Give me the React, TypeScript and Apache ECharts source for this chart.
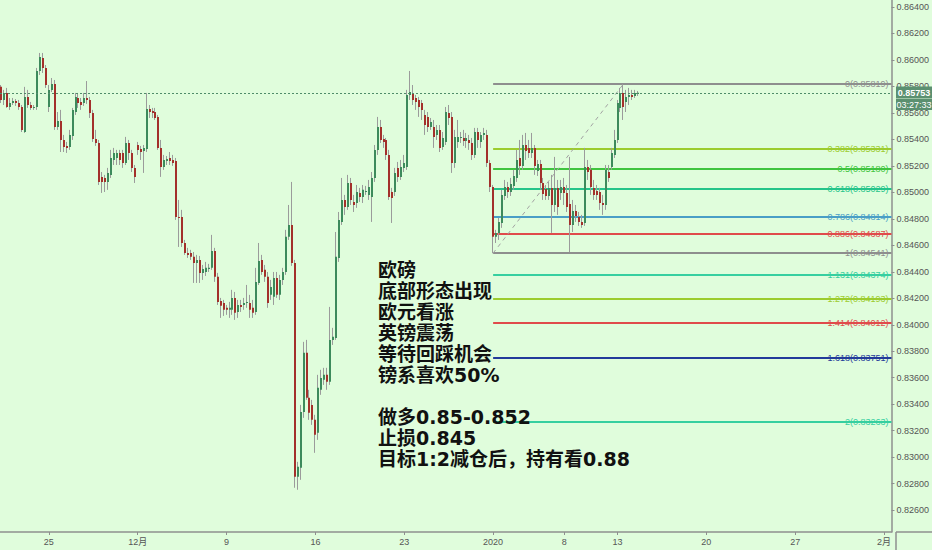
import React, { useEffect, useRef } from "react";
import * as echarts from "echarts";

// 4h EUR/GBP bars: [open, close, low, high]
const candles: number[][] = [
  [0.85797, 0.85698, 0.85675, 0.85811], [0.85698, 0.85751, 0.8566, 0.85774], [0.85751, 0.85645, 0.85638, 0.85789],
  [0.85645, 0.85675, 0.85623, 0.85713], [0.85675, 0.8569, 0.8566, 0.85713], [0.8569, 0.85675, 0.85653, 0.85705],
  [0.85675, 0.85645, 0.85623, 0.85698], [0.85645, 0.85472, 0.85456, 0.8566], [0.85456, 0.85721, 0.85449, 0.85797],
  [0.85721, 0.8566, 0.85638, 0.85774], [0.8566, 0.85638, 0.85623, 0.85683], [0.85638, 0.85645, 0.85623, 0.8566],
  [0.85645, 0.85917, 0.85623, 0.8594], [0.85917, 0.86023, 0.85887, 0.86053], [0.86015, 0.8594, 0.85902, 0.86053],
  [0.8594, 0.85811, 0.85789, 0.85962], [0.85645, 0.85774, 0.85607, 0.85811], [0.85774, 0.85819, 0.85758, 0.85864],
  [0.85819, 0.85494, 0.85472, 0.85849], [0.85494, 0.85539, 0.85472, 0.85607], [0.85539, 0.85396, 0.85305, 0.85623],
  [0.85396, 0.85343, 0.85305, 0.85434], [0.85351, 0.85336, 0.85298, 0.85381], [0.85343, 0.85434, 0.85321, 0.85472],
  [0.85426, 0.85623, 0.85396, 0.85638], [0.85607, 0.85721, 0.85585, 0.85751], [0.85713, 0.85675, 0.85638, 0.85751],
  [0.85683, 0.8566, 0.85623, 0.85713], [0.85675, 0.85713, 0.85653, 0.85751], [0.85713, 0.85698, 0.85668, 0.85841],
  [0.85698, 0.856, 0.85562, 0.85721], [0.856, 0.85404, 0.85381, 0.85623], [0.85404, 0.85373, 0.85351, 0.85472],
  [0.85373, 0.85079, 0.85056, 0.85396], [0.85117, 0.85079, 0.84996, 0.85154], [0.85109, 0.85079, 0.85003, 0.85132],
  [0.85079, 0.85147, 0.85019, 0.85185], [0.85132, 0.8526, 0.85109, 0.85321], [0.85245, 0.85298, 0.85207, 0.85336],
  [0.8526, 0.85298, 0.85207, 0.85321], [0.85298, 0.85245, 0.85207, 0.85321], [0.85298, 0.85222, 0.85185, 0.85321],
  [0.85222, 0.85373, 0.85207, 0.85419], [0.85373, 0.85298, 0.85245, 0.85396], [0.85298, 0.85185, 0.85154, 0.85321],
  [0.85185, 0.85117, 0.85071, 0.85207], [0.85358, 0.85321, 0.85283, 0.85381], [0.85328, 0.85305, 0.85245, 0.85351],
  [0.85313, 0.85336, 0.85147, 0.85358], [0.85328, 0.8563, 0.85305, 0.85751], [0.8563, 0.85607, 0.85562, 0.8566],
  [0.85615, 0.856, 0.85562, 0.85638], [0.85607, 0.85562, 0.85547, 0.85638], [0.8557, 0.85336, 0.85321, 0.85585],
  [0.85336, 0.85192, 0.85117, 0.85396], [0.85192, 0.85245, 0.8517, 0.85283], [0.85237, 0.85253, 0.85207, 0.85275],
  [0.8526, 0.85237, 0.85207, 0.85305], [0.85245, 0.85222, 0.852, 0.85283], [0.85237, 0.84815, 0.84792, 0.8526],
  [0.84815, 0.84807, 0.84588, 0.84943], [0.84815, 0.84618, 0.84588, 0.84868], [0.84618, 0.84543, 0.84528, 0.84641],
  [0.84543, 0.84528, 0.84505, 0.84581], [0.84543, 0.84513, 0.8449, 0.84566], [0.84513, 0.84467, 0.84316, 0.8455],
  [0.84467, 0.8449, 0.84316, 0.84528], [0.8449, 0.84392, 0.84316, 0.8452], [0.84392, 0.84422, 0.84339, 0.84452],
  [0.84399, 0.8443, 0.84369, 0.84475], [0.84422, 0.8443, 0.84399, 0.8446], [0.8443, 0.84558, 0.84415, 0.84679],
  [0.84558, 0.84362, 0.84324, 0.84581], [0.84362, 0.84173, 0.8415, 0.84392], [0.8418, 0.84143, 0.84052, 0.84203],
  [0.84165, 0.84113, 0.84067, 0.84188], [0.84128, 0.84113, 0.84075, 0.8415], [0.84113, 0.84128, 0.84052, 0.84173],
  [0.84113, 0.84203, 0.84075, 0.84264], [0.84203, 0.8409, 0.84037, 0.84248], [0.84097, 0.8415, 0.84052, 0.84188],
  [0.8415, 0.84135, 0.84097, 0.84188], [0.8415, 0.84165, 0.84113, 0.84203], [0.84165, 0.84173, 0.84128, 0.84301],
  [0.84165, 0.84113, 0.84052, 0.84226], [0.84128, 0.8409, 0.84052, 0.84188], [0.84097, 0.84324, 0.84075, 0.8443],
  [0.84316, 0.84482, 0.84301, 0.84618], [0.8449, 0.84399, 0.84377, 0.84528], [0.84415, 0.84362, 0.84324, 0.84452],
  [0.84362, 0.84165, 0.84128, 0.84399], [0.84226, 0.84286, 0.84188, 0.84339], [0.84211, 0.84354, 0.8415, 0.84399],
  [0.84354, 0.84226, 0.84203, 0.84399], [0.84226, 0.84339, 0.84188, 0.84377], [0.84339, 0.84399, 0.84301, 0.8443],
  [0.84399, 0.84664, 0.84377, 0.84717], [0.84664, 0.84754, 0.84641, 0.84905], [0.84754, 0.84467, 0.84445, 0.85079],
  [0.84467, 0.82852, 0.82769, 0.8449], [0.82852, 0.82927, 0.82754, 0.82965], [0.8292, 0.83342, 0.82829, 0.83395],
  [0.83342, 0.83788, 0.83297, 0.83871], [0.83788, 0.83448, 0.83433, 0.83886], [0.83448, 0.83335, 0.83282, 0.83509],
  [0.83395, 0.83282, 0.83244, 0.83433], [0.83282, 0.83169, 0.83033, 0.8332], [0.83184, 0.83524, 0.83131, 0.83622],
  [0.83509, 0.83599, 0.83471, 0.8366], [0.83584, 0.83622, 0.83546, 0.83675], [0.83622, 0.83569, 0.83509, 0.83675],
  [0.83569, 0.83886, 0.83546, 0.84135], [0.83886, 0.83909, 0.83848, 0.83977], [0.83901, 0.84513, 0.83886, 0.84701],
  [0.84505, 0.84792, 0.84475, 0.84852], [0.84777, 0.84943, 0.84754, 0.85109], [0.84943, 0.8489, 0.8483, 0.84981],
  [0.8489, 0.85071, 0.84868, 0.85132], [0.85071, 0.84943, 0.84905, 0.85109], [0.84928, 0.84905, 0.84852, 0.84981],
  [0.8492, 0.85003, 0.84883, 0.85056], [0.84996, 0.84966, 0.84928, 0.85034], [0.84966, 0.85019, 0.8492, 0.85056],
  [0.85003, 0.85011, 0.84981, 0.85049], [0.84981, 0.85041, 0.84943, 0.85094], [0.84966, 0.85109, 0.84777, 0.85154],
  [0.85109, 0.85321, 0.85079, 0.85358], [0.85321, 0.85494, 0.85283, 0.8557], [0.85494, 0.85396, 0.85373, 0.85547],
  [0.85404, 0.85381, 0.85336, 0.85434], [0.85396, 0.85283, 0.85245, 0.85411], [0.85283, 0.84966, 0.84943, 0.85321],
  [0.85003, 0.84958, 0.84769, 0.85034], [0.85003, 0.85147, 0.84973, 0.85185], [0.85185, 0.85117, 0.85079, 0.8523],
  [0.85117, 0.85192, 0.85094, 0.85245], [0.85185, 0.85222, 0.85154, 0.85283], [0.85192, 0.85736, 0.8517, 0.85774],
  [0.85736, 0.85758, 0.85698, 0.85917], [0.85751, 0.85698, 0.8566, 0.85811], [0.85713, 0.85683, 0.85623, 0.85736],
  [0.85698, 0.85645, 0.8557, 0.85721], [0.85675, 0.85623, 0.85547, 0.85698], [0.85585, 0.85509, 0.85434, 0.85623],
  [0.8557, 0.85494, 0.85456, 0.85607], [0.85494, 0.85532, 0.85472, 0.85562], [0.85494, 0.85419, 0.85336, 0.85547],
  [0.85434, 0.85472, 0.85396, 0.85509], [0.85472, 0.85336, 0.85305, 0.85509], [0.85343, 0.85411, 0.85321, 0.85456],
  [0.85381, 0.85607, 0.85358, 0.85645], [0.856, 0.85562, 0.85509, 0.8566], [0.8557, 0.85222, 0.85147, 0.85607],
  [0.85222, 0.85419, 0.85185, 0.85472], [0.85381, 0.85419, 0.85336, 0.85547], [0.85411, 0.85419, 0.85373, 0.85456],
  [0.85411, 0.85389, 0.85351, 0.85472], [0.85389, 0.85411, 0.85336, 0.85449], [0.85396, 0.85373, 0.85321, 0.85434],
  [0.85373, 0.85283, 0.85245, 0.85411], [0.85283, 0.85456, 0.8526, 0.85487], [0.85456, 0.85396, 0.85336, 0.85487],
  [0.85381, 0.85434, 0.85336, 0.85456], [0.85434, 0.85449, 0.85396, 0.85487], [0.85434, 0.85222, 0.85192, 0.85472],
  [0.85222, 0.85041, 0.85003, 0.85245], [0.85041, 0.84664, 0.84541, 0.85056], [0.84664, 0.84694, 0.84618, 0.84717],
  [0.84694, 0.84777, 0.84641, 0.84807], [0.84769, 0.84981, 0.84732, 0.85019], [0.84973, 0.85041, 0.84943, 0.85094],
  [0.85041, 0.85003, 0.84958, 0.85079], [0.85003, 0.85064, 0.84973, 0.85109], [0.85049, 0.85124, 0.85019, 0.8517],
  [0.85109, 0.85245, 0.85079, 0.85321], [0.8526, 0.852, 0.85132, 0.85396], [0.852, 0.85358, 0.8517, 0.85434],
  [0.85358, 0.85313, 0.85245, 0.85449], [0.85336, 0.85298, 0.8526, 0.85396], [0.85298, 0.85336, 0.8526, 0.85449],
  [0.85336, 0.852, 0.85132, 0.85358], [0.85162, 0.85215, 0.85124, 0.85245], [0.85215, 0.85071, 0.85019, 0.85245],
  [0.85071, 0.84988, 0.84943, 0.85109], [0.85026, 0.84973, 0.84943, 0.85056], [0.84973, 0.85034, 0.84943, 0.85079],
  [0.85034, 0.84905, 0.84694, 0.85132], [0.84905, 0.85034, 0.84852, 0.85268], [0.85034, 0.8489, 0.8483, 0.85094],
  [0.84996, 0.85041, 0.84943, 0.85094], [0.85041, 0.84996, 0.84905, 0.85109], [0.84996, 0.8489, 0.84852, 0.85056],
  [0.84913, 0.84754, 0.84548, 0.85268], [0.84754, 0.8486, 0.84701, 0.84943], [0.8486, 0.84822, 0.84777, 0.84905],
  [0.84815, 0.84777, 0.84747, 0.84852], [0.84777, 0.84754, 0.84732, 0.8483], [0.84769, 0.85192, 0.84747, 0.85336],
  [0.85192, 0.85154, 0.85094, 0.85245], [0.8517, 0.85041, 0.84981, 0.85207], [0.85034, 0.84981, 0.84943, 0.85094],
  [0.85011, 0.84981, 0.84943, 0.85056], [0.85003, 0.8492, 0.84868, 0.85034], [0.8492, 0.84905, 0.8483, 0.84981],
  [0.84905, 0.8517, 0.84868, 0.85207], [0.85154, 0.85109, 0.85079, 0.85207], [0.85192, 0.85298, 0.8517, 0.85336],
  [0.85283, 0.85396, 0.8526, 0.85472], [0.85396, 0.85675, 0.85373, 0.85698], [0.85638, 0.85751, 0.85607, 0.85789],
  [0.85751, 0.85645, 0.85547, 0.85819], [0.85683, 0.85721, 0.85607, 0.85774], [0.85721, 0.85736, 0.8566, 0.85789],
  [0.85736, 0.85721, 0.85698, 0.85774], [0.85728, 0.85751, 0.85713, 0.85774], [0.85743, 0.85753, 0.85728, 0.85766],
];

// Fibonacci retracement drawn from the Jan 2 low to the Jan 14 high
const fibRatios = ["0", "0.382", "0.5", "0.618", "0.786", "0.886", "1", "1.131", "1.272", "1.414", "1.618", "2"];
const fibPrices = [0.85819, 0.85331, 0.8518, 0.85029, 0.84814, 0.84687, 0.84541, 0.84374, 0.84193, 0.84012, 0.83751, 0.83263];
const fibColors = ["#8e8e8e", "#9ccc2e", "#3fc43f", "#25c48a", "#4a9ec6", "#e04b4b", "#8e8e8e", "#36cfa0", "#9ccc2e", "#e04b4b", "#233b9a", "#36cfa0"];
const fibStartBar = 166;
const trendStart = [166, 0.84541];
const trendEnd = [210, 0.85819];

const lastPrice = 0.85753;
const barCountdown = "03:27:33";

const priceTicks = [
  0.826, 0.828, 0.83, 0.832, 0.834, 0.836, 0.838, 0.84, 0.842, 0.844,
  0.846, 0.848, 0.85, 0.852, 0.854, 0.856, 0.858, 0.86, 0.862, 0.864,
];

const dateTicks: [string, string][] = [
  ["2019-11-25 00:00", "25"],
  ["2019-12-02 00:00", "12月"],
  ["2019-12-09 00:00", "9"],
  ["2019-12-16 00:00", "16"],
  ["2019-12-23 00:00", "23"],
  ["2020-01-02 00:00", "2020"],
  ["2020-01-08 00:00", "8"],
  ["2020-01-13 00:00", "13"],
  ["2020-01-20 00:00", "20"],
  ["2020-01-27 00:00", "27"],
  ["2020-02-03 00:00", "2月"],
];

const noteText = [
  "欧磅",
  "底部形态出现",
  "欧元看涨",
  "英镑震荡",
  "等待回踩机会",
  "镑系喜欢50%",
  "",
  "做多0.85-0.852",
  "止损0.845",
  "目标1:2减仓后，持有看0.88",
].join("\n");

// Trading calendar for the 4h bars (weekends skipped, holiday sessions shortened)
const firstBar = "2019-11-20 08:00";
const lastBar = "2020-02-03 08:00";
const closedDays = ["2019-12-25", "2020-01-01"];
const shortDays = ["2019-12-24", "2019-12-31"];

function buildBarTimes(): string[] {
  const out: string[] = [];
  const d = new Date(Date.UTC(2019, 10, 20));
  let started = false;
  while (true) {
    const dow = d.getUTCDay();
    const key = d.toISOString().slice(0, 10);
    if (dow !== 0 && dow !== 6 && !closedDays.includes(key)) {
      const hours = shortDays.includes(key) ? [0, 4, 8] : [0, 4, 8, 12, 16, 20];
      for (const h of hours) {
        const t = `${key} ${String(h).padStart(2, "0")}:00`;
        if (t === firstBar) started = true;
        if (started) out.push(t);
        if (t === lastBar) return out;
      }
    }
    d.setUTCDate(d.getUTCDate() + 1);
  }
}

const barTimes = buildBarTimes();
const tickLabelMap: Record<string, string> = Object.fromEntries(dateTicks);

const BG = "#e0fddc";
const UP = "#3d8a5c";
const DOWN = "#a3302b";
const WICK = "#9b9b9b";
const AXIS = "#8f8f8f";
const LABEL = "#555";
const PRICE_BOX = "#5b9070";
const NARROW = "'Liberation Sans Narrow', 'Liberation Sans', sans-serif";

export default function App() {
  const ref = useRef<HTMLDivElement>(null);

  useEffect(() => {
    if (!ref.current) return;
    const chart = echarts.init(ref.current, undefined, { renderer: "svg" });

    const option: any = {
      animation: false,
      backgroundColor: BG,
      grid: { left: 0, right: 36, top: 0, bottom: 18 },
      xAxis: {
        type: "category",
        data: barTimes,
        boundaryGap: true,
        axisLine: { show: true, lineStyle: { color: AXIS, width: 1.5 } },
        axisTick: {
          show: true,
          alignWithLabel: true,
          length: 3,
          interval: (i: number, v: string) => v in tickLabelMap,
          lineStyle: { color: AXIS },
        },
        axisLabel: {
          interval: (i: number, v: string) => v in tickLabelMap,
          formatter: (v: string) => tickLabelMap[v] ?? "",
          color: LABEL,
          fontSize: 9,
          margin: 5,
          fontFamily: "'Liberation Sans Narrow', 'Liberation Sans', 'Noto Sans CJK SC', sans-serif",
        },
        splitLine: { show: false },
      },
      yAxis: {
        type: "value",
        position: "right",
        min: 0.82435,
        max: 0.86453,
        scale: true,
        axisLine: { show: true, lineStyle: { color: AXIS, width: 1.5 } },
        axisTick: { show: true, length: 3, customValues: priceTicks, lineStyle: { color: AXIS } },
        axisLabel: {
          customValues: priceTicks,
          formatter: (v: number) => v.toFixed(5),
          color: LABEL,
          fontSize: 9,
          margin: 5,
          fontFamily: NARROW,
        },
        splitLine: { show: false },
      },
      series: [
        {
          // Fibonacci levels with their ratio/price tags at the right edge
          type: "custom",
          silent: true,
          z: 2,
          data: fibPrices.map((p, k) => [fibStartBar, p, k]),
          renderItem: (params: any, api: any) => {
            const k = api.value(2);
            const [x, y] = api.coord([api.value(0), api.value(1)]);
            const right = params.coordSys.x + params.coordSys.width;
            const yy = Math.round(y);
            return {
              type: "group",
              children: [
                {
                  type: "line",
                  shape: { x1: x, y1: yy, x2: right, y2: yy },
                  style: { stroke: fibColors[k], lineWidth: 2 },
                },
                {
                  type: "text",
                  x: right - 3,
                  y: yy,
                  style: {
                    text: `${fibRatios[k]}(${fibPrices[k].toFixed(5)})`,
                    fill: fibColors[k],
                    align: "right",
                    verticalAlign: "middle",
                    font: `9px ${NARROW}`,
                  },
                },
              ],
            };
          },
        },
        {
          // dashed trend line joining the two Fibonacci anchors
          type: "line",
          silent: true,
          z: 3,
          symbol: "none",
          data: [trendStart, trendEnd],
          lineStyle: { color: "#a2a2a2", width: 1, type: [4, 4] },
        },
        {
          // 4h candles
          type: "custom",
          z: 4,
          data: candles.map((c, i) => [i, c[0], c[1], c[2], c[3]]),
          encode: { x: 0, y: [1, 2, 3, 4] },
          renderItem: (params: any, api: any) => {
            const i = api.value(0);
            const o = api.value(1);
            const c = api.value(2);
            const pO = api.coord([i, o]);
            const yC = api.coord([i, c])[1];
            const yL = api.coord([i, api.value(3)])[1];
            const yH = api.coord([i, api.value(4)])[1];
            const x0 = Math.round(pO[0] - 1);
            const top = Math.min(pO[1], yC);
            const h = Math.max(Math.abs(pO[1] - yC), 1);
            return {
              type: "group",
              children: [
                {
                  type: "line",
                  shape: { x1: x0 + 0.5, y1: yH, x2: x0 + 0.5, y2: yL },
                  style: { stroke: WICK, lineWidth: 1 },
                },
                {
                  type: "rect",
                  shape: { x: x0, y: top, width: 2, height: h },
                  style: { fill: c >= o ? UP : DOWN },
                },
              ],
            };
          },
        },
        {
          // last price line
          type: "custom",
          silent: true,
          z: 5,
          data: [[candles.length - 1, lastPrice]],
          renderItem: (params: any, api: any) => {
            const y = Math.round(api.coord([api.value(0), api.value(1)])[1]) + 0.5;
            return {
              type: "line",
              shape: { x1: params.coordSys.x, y1: y, x2: params.coordSys.x + params.coordSys.width, y2: y },
              style: { stroke: "#4f8c69", lineWidth: 1, lineDash: [2, 2] },
            };
          },
        },
      ],
      graphic: [
        {
          type: "text",
          x: 378,
          y: 259.5,
          z: 100,
          style: {
            text: noteText,
            fill: "#111",
            font: "bold 19px 'DejaVu Sans', 'Noto Sans CJK SC', sans-serif",
            lineHeight: 21,
            align: "left",
            verticalAlign: "top",
          },
        },
        // axis lines continue through the corner
        { type: "line", z: 100, shape: { x1: 896, y1: 532, x2: 896, y2: 550 }, style: { stroke: AXIS, lineWidth: 1.5 } },
        { type: "line", z: 100, shape: { x1: 896, y1: 532, x2: 932, y2: 532 }, style: { stroke: AXIS, lineWidth: 1.5 } },
        // last price tag and bar countdown on the price scale
        { type: "rect", z: 100, shape: { x: 896, y: 86.5, width: 36, height: 12 }, style: { fill: PRICE_BOX } },
        { type: "rect", z: 100, shape: { x: 896, y: 99, width: 36, height: 11 }, style: { fill: PRICE_BOX } },
        {
          type: "text",
          z: 101,
          x: 914,
          y: 92.5,
          style: {
            text: lastPrice.toFixed(5),
            fill: "#fff",
            align: "center",
            verticalAlign: "middle",
            font: `bold 9px ${NARROW}`,
          },
        },
        {
          type: "text",
          z: 101,
          x: 914,
          y: 104.5,
          style: {
            text: barCountdown,
            fill: "#fff",
            align: "center",
            verticalAlign: "middle",
            font: `9px ${NARROW}`,
          },
        },
      ],
    };

    chart.setOption(option);
    return () => chart.dispose();
  }, []);

  return (
    <div
      ref={ref}
      style={{ position: "fixed", left: 0, top: 0, width: 932, height: 550, background: BG }}
    />
  );
}
